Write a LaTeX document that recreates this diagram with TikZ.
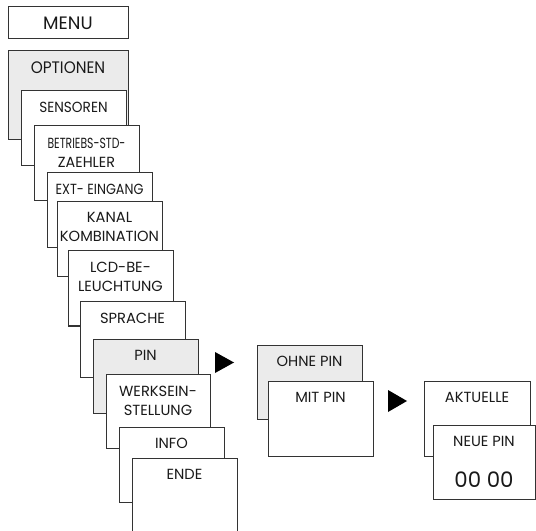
\documentclass[tikz,border=0pt]{standalone}
\usepackage{fontspec}
\setmainfont{Poppins}
\usetikzlibrary{fit}
\newcommand\stretchto[1]{\addfontfeature{FakeStretch=#1}}
\tikzset{
  x=0.75pt, y=-0.75pt,
  box/.style={draw=black!80, line width=0.75pt, fill=white, inner sep=0pt},
  graybox/.style={box, fill=black!8},
  lbl/.style={inner sep=0pt, align=center, font=\fontsize{11}{14.25}\selectfont, text=black!90},
  menulbl/.style={lbl, font=\fontsize{13.5}{15}\selectfont},
  optlbl/.style={lbl, font=\fontsize{12.5}{15}\selectfont\stretchto{0.92}},
  condlbl/.style={lbl, font=\fontsize{11}{14.25}\selectfont\stretchto{#1}},
  numlbl/.style={lbl, font=\fontsize{16}{18}\selectfont},
  tri/.style={fill=black}
}
\newcommand\bx[6]{%
  \path (#2,#3) coordinate (#1-nw) (#4,#5) coordinate (#1-se);
  \node[#6, fit=(#1-nw)(#1-se)] (#1) {};}
\begin{document}
\begin{tikzpicture}
\clip (0,0) rectangle (536,531);
\fill[white] (0,0) rectangle (536,531);
% left column
\bx{menu}{8}{7}{128}{39}{box}
\node[menulbl] (menu-t) at (menu.center) {MENU};
\bx{opt}{8}{51}{128}{140}{graybox}
\node[optlbl] (opt-t) at (68,68) {OPTIONEN};
\bx{sens}{21}{91}{126}{166}{box}
\node[condlbl=0.93] (sens-t) at (73.5,107) {SENSOREN};
\bx{betr}{34}{126}{139}{201}{box}
\node[condlbl=0.74] (betr-t) at (86.5,152.5) {BETRIEBS-STD-\\{\stretchto{0.98}ZAEHLER}};
\bx{ext}{47}{173}{152}{248}{box}
\node[condlbl=0.87] (ext-t) at (99.5,189) {EXT- EINGANG};
\bx{kan}{57}{202}{162}{277}{box}
\node[lbl] (kan-t) at (109.5,227) {KANAL\\KOMBINATION};
\bx{lcd}{68}{251}{173}{326}{box}
\node[lbl] (lcd-t) at (120.5,276.5) {LCD-BE-\\LEUCHTUNG};
\bx{spr}{80}{302}{185}{377}{box}
\node[lbl] (spr-t) at (132.5,318) {SPRACHE};
\bx{pin}{93}{339}{198}{413}{graybox}
\node[lbl] (pin-t) at (145.5,355) {PIN};
\bx{werk}{106}{374}{210}{448}{box}
\node[lbl] (werk-t) at (158,400.5) {WERKSEIN-\\STELLUNG};
\bx{info}{119}{427}{224}{502}{box}
\node[lbl] (info-t) at (171.5,443) {INFO};
\bx{ende}{132}{458}{237}{545}{box}
\node[lbl] (ende-t) at (184.5,474) {ENDE};
% arrow 1
\fill[tri] (215,352) -- (234,362.5) -- (215,373) -- cycle;
% middle column
\bx{ohne}{257}{345}{362}{419}{graybox}
\node[lbl] (ohne-t) at (309.5,361) {OHNE PIN};
\bx{mit}{268}{381}{373}{456}{box}
\node[lbl] (mit-t) at (320.5,397) {MIT PIN};
% arrow 2
\fill[tri] (388,390) -- (407,401) -- (388,412) -- cycle;
% right column
\bx{akt}{424}{381}{530}{456}{box}
\node[lbl] (akt-t) at (477,397) {AKTUELLE};
\bx{neue}{433}{425}{535}{499}{box}
\node[lbl] (neue-t) at (484,441) {NEUE PIN};
\node[numlbl] (num-t) at (484,479.5) {00 00};
\end{tikzpicture}
\end{document}
